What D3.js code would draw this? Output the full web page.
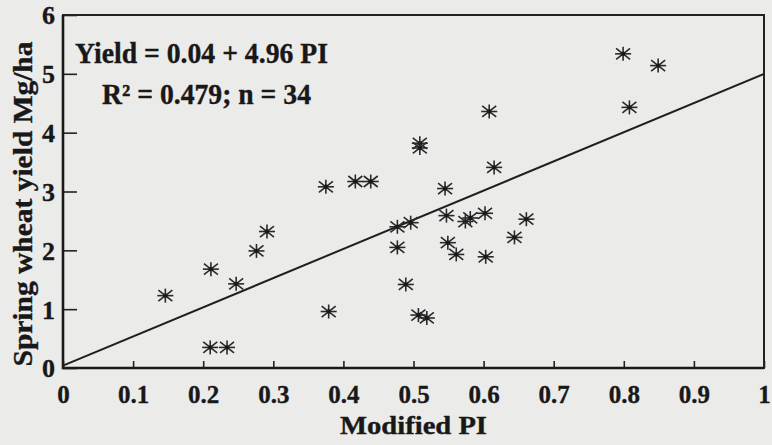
<!DOCTYPE html>
<meta charset="utf-8">
<head>
    <title>Spring wheat yield vs modified PI</title>
</head>
<style>
	body {
	  margin: 0;
	  background: #ebebea;
	}
	.axis line {
	  stroke: #222;
	  stroke-width: 1.6px;
	}
	.star line {
	  stroke: #2a2a2a;
	  stroke-width: 1.6px;
	}
</style>
<body>
<script src="https://cdn.jsdelivr.net/npm/d3@7/dist/d3.min.js"></script>
<script>
// values
var piValues = [0.146, 0.211, 0.247, 0.276, 0.291, 0.375, 0.417, 0.439, 0.379, 0.210, 0.234,
                0.608, 0.509, 0.509, 0.615, 0.545, 0.477, 0.496, 0.547, 0.574, 0.581,
                0.602, 0.661, 0.644, 0.477, 0.549, 0.561, 0.603, 0.489, 0.507, 0.519,
                0.799, 0.849, 0.808];
var yieldValues = [1.23, 1.68, 1.43, 1.99, 2.32, 3.08, 3.17, 3.17, 0.96, 0.35, 0.35,
                   4.36, 3.82, 3.74, 3.41, 3.05, 2.40, 2.47, 2.59, 2.49, 2.55,
                   2.63, 2.53, 2.22, 2.05, 2.13, 1.93, 1.89, 1.42, 0.90, 0.85,
                   5.34, 5.14, 4.43];
var xTicks = [0, 0.1, 0.2, 0.3, 0.4, 0.5, 0.6, 0.7, 0.8, 0.9, 1];
var xTickLabels = ["0", "0.1", "0.2", "0.3", "0.4", "0.5", "0.6", "0.7", "0.8", "0.9", "1"];
var yTicks = [0, 1, 2, 3, 4, 5, 6];
var fitIntercept = 0.04, fitSlope = 4.96;
var eqLines = ["Yield = 0.04 + 4.96 PI", "R² = 0.479; n = 34"];

var serif = "'Liberation Serif', 'Times New Roman', Tinos, serif";

var margin = {top: 15, right: 8, bottom: 77, left: 63},
    width = 772 - margin.left - margin.right,
    height = 445 - margin.top - margin.bottom;

var data = piValues.map(function(p, i) { return {pi: p, y: yieldValues[i]}; });

var xScale = d3.scaleLinear().domain([0, 1]).range([0, width]),
    yScale = d3.scaleLinear().domain([0, 6]).range([height, 0]);

var svg = d3.select("body").append("svg")
    .attr("width", 772)
    .attr("height", 445)
  .append("g")
    .attr("transform", "translate(" + margin.left + "," + margin.top + ")");

function styleText(sel, size) {
  sel.style("font-family", serif)
     .style("font-weight", "bold")
     .style("font-size", size + "px")
     .style("fill", "#181818")
     .style("stroke", "#181818")
     .style("stroke-width", "0.35px");
}

// x-axis, ticks pointing up into the plot
var xAxis = d3.axisBottom(xScale)
    .tickValues(xTicks)
    .tickSize(-7)
    .tickPadding(12)
    .tickFormat(function(d, i) { return xTickLabels[i]; });
var gx = svg.append("g")
    .attr("class", "axis")
    .attr("transform", "translate(0," + height + ")")
    .call(xAxis);
gx.select(".domain").remove();
gx.selectAll("text").attr("dy", "0.9em").call(styleText, 25);

// y-axis, ticks pointing right into the plot
var yAxis = d3.axisLeft(yScale)
    .tickValues(yTicks)
    .tickSize(-14)
    .tickPadding(8)
    .tickFormat(d3.format("d"));
var gy = svg.append("g")
    .attr("class", "axis")
    .call(yAxis);
gy.select(".domain").remove();
gy.selectAll("text").attr("dy", "0.34em").call(styleText, 26);

// frame
svg.append("rect")
    .attr("x", 0).attr("y", 0)
    .attr("width", width).attr("height", height)
    .attr("fill", "none")
    .attr("stroke", "#222")
    .attr("stroke-width", 2);
svg.append("path")
    .attr("d", "M0,0V" + height + "H" + width)
    .attr("fill", "none")
    .attr("stroke", "#1a1a1a")
    .attr("stroke-width", 2.6);

// fitted line
svg.append("line")
    .attr("x1", xScale(0)).attr("y1", yScale(fitIntercept))
    .attr("x2", xScale(1)).attr("y2", yScale(fitIntercept + fitSlope))
    .attr("stroke", "#1f1f1f")
    .attr("stroke-width", 2);

// asterisk markers
var spokes = [[-8, 0, 8, 0], [0, -7, 0, 7], [-7, -5.5, 7, 5.5], [-7, 5.5, 7, -5.5]];
var stars = svg.selectAll(".star")
    .data(data)
  .enter().append("g")
    .attr("class", "star")
    .attr("transform", function(d) { return "translate(" + xScale(d.pi) + "," + yScale(d.y) + ")"; });
stars.selectAll("line")
    .data(spokes)
  .enter().append("line")
    .attr("x1", function(s) { return s[0]; })
    .attr("y1", function(s) { return s[1]; })
    .attr("x2", function(s) { return s[2]; })
    .attr("y2", function(s) { return s[3]; });
stars.append("circle")
    .attr("r", 2.2)
    .attr("fill", "#1a1a1a");

// equation text
svg.append("text")
    .attr("x", 12)
    .attr("y", 48)
    .attr("textLength", 253)
    .attr("lengthAdjust", "spacingAndGlyphs")
    .call(styleText, 29)
    .text(eqLines[0]);
svg.append("text")
    .attr("x", 39)
    .attr("y", 89)
    .attr("textLength", 209)
    .attr("lengthAdjust", "spacingAndGlyphs")
    .call(styleText, 29)
    .text(eqLines[1]);

// axis titles
svg.append("text")
    .attr("x", xScale(0.5))
    .attr("y", height + 66)
    .attr("textLength", 147)
    .attr("lengthAdjust", "spacingAndGlyphs")
    .style("text-anchor", "middle")
    .call(styleText, 26)
    .text("Modified PI");

svg.append("text")
    .attr("transform", "translate(" + (32 - margin.left) + "," + (204 - margin.top) + ") rotate(-90)")
    .attr("textLength", 325)
    .attr("lengthAdjust", "spacingAndGlyphs")
    .style("text-anchor", "middle")
    .call(styleText, 27)
    .text("Spring wheat yield Mg/ha");
</script>
</body>
